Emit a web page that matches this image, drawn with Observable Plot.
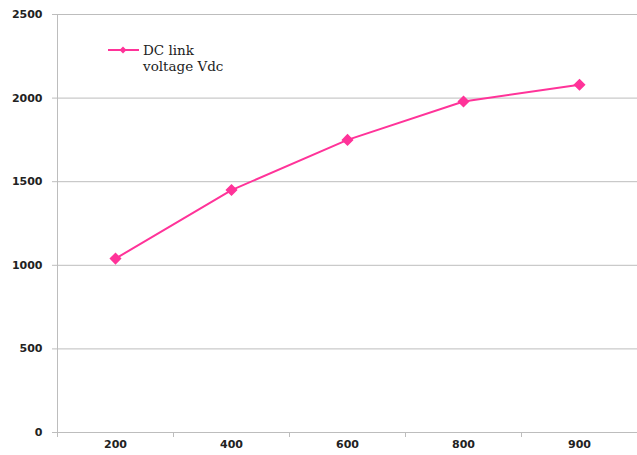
<!DOCTYPE html>
<html>
<head>
<meta charset="utf-8">
<script src="https://cdn.jsdelivr.net/npm/d3@7"></script>
<script src="https://cdn.jsdelivr.net/npm/@observablehq/plot@0.6"></script>
<style>
  html, body { margin: 0; padding: 0; background: #fff; }
  #wrap { position: relative; width: 637px; height: 455px; }
  #legend { position: absolute; left: 108px; top: 42px; font-family: "DejaVu Serif", serif; font-size: 13.5px; color: #222; line-height: 16px; display: flex; align-items: flex-start; }
  #legend svg { margin-top: 2px; margin-right: 3px; }
</style>
</head>
<body>
<div id="wrap">
  <div id="chart"></div>
  <div id="legend"></div>
</div>
<script>
const categories = ["200", "400", "600", "800", "900"];
const vdc = [1040, 1450, 1750, 1980, 2080];
const yTicks = [0, 500, 1000, 1500, 2000, 2500];
const seriesName = "DC link voltage Vdc";
const color = "#ff3399";

const data = categories.map((c, i) => ({cat: c, pos: i + 0.5, v: vdc[i]}));
const boundaries = d3.range(categories.length + 1);

const chart = Plot.plot({
  width: 637,
  height: 455,
  marginLeft: 57,
  marginRight: 0,
  marginTop: 14,
  marginBottom: 23,
  style: {fontFamily: "DejaVu Sans, sans-serif", fontSize: "11px", color: "#222", background: "#fff"},
  x: {type: "linear", domain: [0, categories.length], axis: null},
  y: {domain: [0, 2500], axis: null},
  marks: [
    Plot.gridY(yTicks, {stroke: "#bdbdbd", strokeOpacity: 1}),
    Plot.ruleX([0], {stroke: "#bdbdbd"}),
    Plot.axisY(yTicks, {tickSize: 5, stroke: "#bdbdbd", tickPadding: 10, fill: "#222", fontWeight: "bold", tickFormat: d3.format("d"), label: null}),
    Plot.axisX(boundaries, {tickSize: 5, stroke: "#bdbdbd", tickFormat: () => "", label: null}),
    Plot.axisX(data.map(d => d.pos), {tickSize: 0, tickPadding: 8, tickFormat: (p) => categories[Math.round(p - 0.5)], fill: "#222", fontWeight: "bold", label: null}),
    Plot.line(data, {x: "pos", y: "v", stroke: color, strokeWidth: 2}),
    Plot.dot(data, {x: "pos", y: "v", symbol: "diamond2", r: 4.5, fill: color, stroke: color})
  ]
});
document.getElementById("chart").appendChild(chart);

const leg = document.getElementById("legend");
leg.innerHTML = `<svg width="32" height="12"><line x1="0" y1="6" x2="31" y2="6" stroke="${color}" stroke-width="2"/><path d="M15 2.5 L18.5 6 L15 9.5 L11.5 6 Z" fill="${color}"/></svg><div>DC link<br>voltage Vdc</div>`;
</script>
</body>
</html>
